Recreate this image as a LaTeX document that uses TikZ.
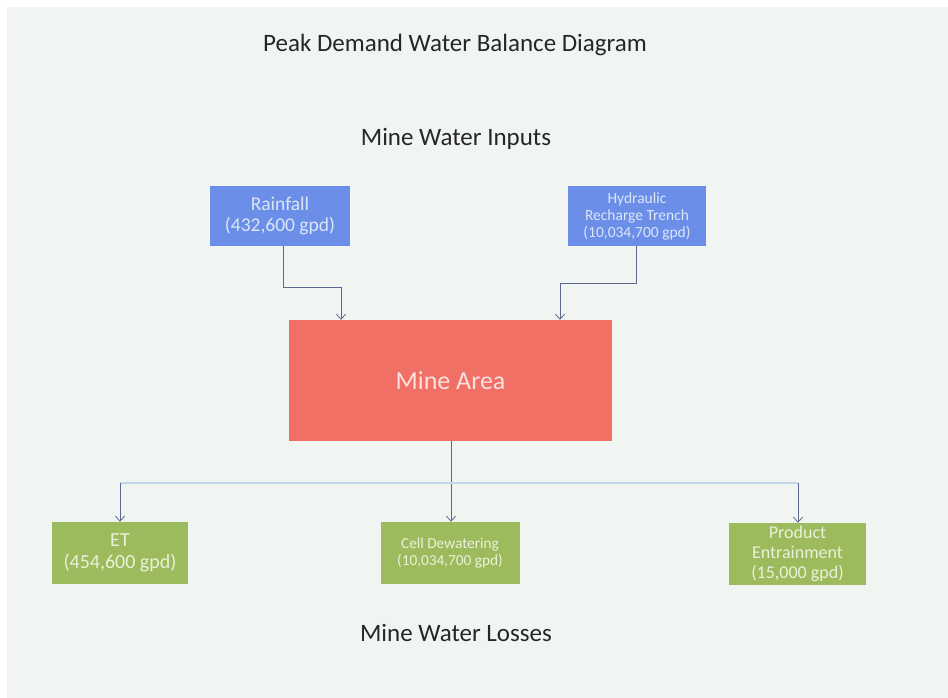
\documentclass[tikz,border=0pt]{standalone}
\usepackage{fontspec}
\setmainfont{Carlito}
\usetikzlibrary{arrows.meta}

\definecolor{pagebg}{HTML}{F1F5F1}
\definecolor{inblue}{HTML}{6B8FE8}
\definecolor{intext}{HTML}{DCE5F7}
\definecolor{minered}{HTML}{F07066}
\definecolor{minetext}{HTML}{FBE2DE}
\definecolor{lossgreen}{HTML}{9CBB5C}
\definecolor{losstext}{HTML}{EAF1DA}
\definecolor{flowline}{HTML}{5C6890}
\definecolor{splitline}{HTML}{C3D6E4}
\definecolor{headtext}{HTML}{262626}

\begin{document}
\begin{tikzpicture}[x=1pt,y=-1pt,
  >={Straight Barb[length=5pt,width=9pt]},
  heading/.style={text=headtext,font=\fontsize{25}{30}\selectfont},
  inbox/.style={fill=inblue,text=intext,align=center,inner sep=0pt},
  lossbox/.style={fill=lossgreen,text=losstext,align=center,inner sep=0pt},
  flow/.style={draw=flowline,line width=0.8pt},
  split/.style={draw=splitline,line width=1.2pt}]
\useasboundingbox (0,0) rectangle (948,698);
\fill[white] (0,0) rectangle (948,698);
\fill[pagebg] (7,7) rectangle (948,698);

% headings
\node[heading] (title) at (455,45) {Peak Demand Water Balance Diagram};
\node[heading] (inputs) at (456,139) {Mine Water Inputs};
\node[heading] (losses) at (456,633) {Mine Water Losses};

% inputs
\node[inbox,minimum width=140pt,minimum height=60pt,
  font=\fontsize{19.5}{21}\selectfont] (rain) at (280,216)
  {Rainfall\\(432,600 gpd)};
\node[inbox,minimum width=138pt,minimum height=60pt,
  font=\fontsize{15.5}{17}\selectfont] (trench) at (637,216)
  {Hydraulic\\Recharge Trench\\(10,034,700 gpd)};

% mine
\node[fill=minered,text=minetext,minimum width=323pt,minimum height=121pt,
  font=\fontsize{26}{30}\selectfont] (mine) at (450.5,380.5) {Mine Area};

% losses
\node[lossbox,minimum width=136pt,minimum height=62pt,
  font=\fontsize{20}{22}\selectfont] (et) at (120,553)
  {ET\\(454,600 gpd)};
\node[lossbox,minimum width=139pt,minimum height=62pt,
  font=\fontsize{15.3}{17}\selectfont] (cell) at (450,553)
  {Cell Dewatering\\(10,034,700 gpd)};
\node[lossbox,minimum width=137pt,minimum height=62pt,
  font=\fontsize{18}{20}\selectfont] (prod) at (797.5,554)
  {Product\\Entrainment\\(15,000 gpd)};

% connectors
\draw[flow,->] (rain.south -| 283,0) |- (341,287) -- (mine.north -| 341,0);
\draw[flow,->] (trench.south -| 636,0) |- (560,283) -- (mine.north -| 560,0);
\draw[flow,->] (mine.south -| 451,0) -- (cell.north -| 451,0);

\coordinate (etsplit) at (120,483);
\coordinate (prodsplit) at (798,483);
\draw[split] (etsplit) -- (prodsplit);
\draw[flow,->] (etsplit) -- (et.north -| etsplit);
\draw[flow,->] (prodsplit) -- (prod.north -| prodsplit);

\end{tikzpicture}
\end{document}
